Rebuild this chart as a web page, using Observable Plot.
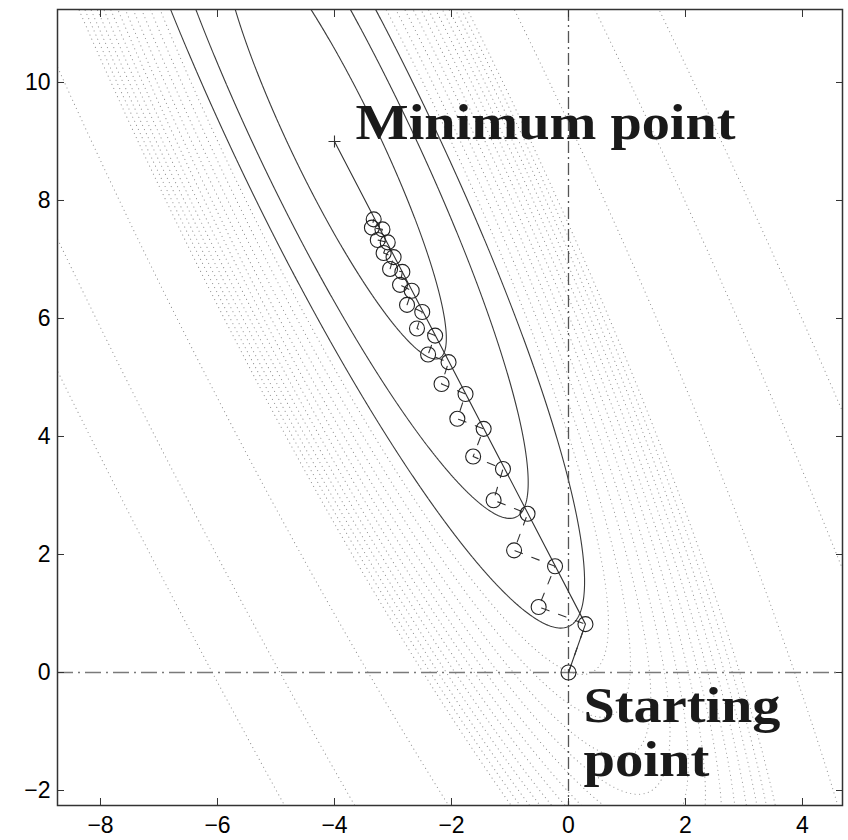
<!DOCTYPE html>
<html>
<head>
<meta charset="utf-8">
<script src="https://cdn.jsdelivr.net/npm/d3@7"></script>
<script src="https://cdn.jsdelivr.net/npm/@observablehq/plot@0.6"></script>
<style>
  html, body { margin: 0; padding: 0; background: #fff; }
</style>
</head>
<body>
<div id="chart"></div>
<script>
// Axis ticks
const xTicks = [-8, -6, -4, -2, 0, 2, 4];
const yTicks = [-2, 0, 2, 4, 6, 8, 10];

// Quadratic objective: minimum point and Hessian shape
const minimumPoint = [-4, 9];
const hessianXX = 1;
const hessianXY = 0.469;
const hessianYY = 0.2687;
const levelUnit = 0.663;

// Contour levels
const solidLevels = [1, 3, 5];
const dottedLevels = [6, 7, 8, 9, 10, 11, 12, 13, 14, 15, 16, 17, 26, 46, 66];

// Iterates (circles), in path order
const iterX = [0, 0.29, -0.51, -0.23, -0.93, -0.70, -1.28, -1.12, -1.63, -1.45,
  -1.90, -1.76, -2.17, -2.05, -2.40, -2.28, -2.59, -2.50, -2.76, -2.68,
  -2.88, -2.84, -3.05, -2.99, -3.16, -3.09, -3.26, -3.18, -3.36, -3.33];
const iterY = [0, 0.82, 1.11, 1.80, 2.07, 2.69, 2.92, 3.45, 3.66, 4.13,
  4.30, 4.72, 4.89, 5.26, 5.39, 5.71, 5.83, 6.11, 6.23, 6.47,
  6.57, 6.79, 6.84, 7.04, 7.11, 7.29, 7.33, 7.51, 7.54, 7.68];

// Solid line: start -> first step -> minimum
const lineX = [0, 0.29, -4];
const lineY = [0, 0.82, 9];

// Annotations
const labelText = ["Minimum point", "Starting\npoint"];
const labelX = [-3.64, 0.256];
const labelY = [9.05, -1.746];
const labelWidths = {"Minimum point": 380, "Starting": 197, "point": 126};

const f = (x, y) => {
  const dx = x - minimumPoint[0], dy = y - minimumPoint[1];
  return (hessianXX * dx * dx + 2 * hessianXY * dx * dy + hessianYY * dy * dy) / levelUnit;
};

const plusSymbol = {
  draw(context, size) {
    const r = Math.sqrt(size / Math.PI);
    context.moveTo(-r, 0); context.lineTo(r, 0);
    context.moveTo(0, -r); context.lineTo(0, r);
  }
};

const grid = {x1: -10, x2: 6, y1: -4, y2: 13};
const intFormat = d3.format("d");

const chart = Plot.plot({
  width: 848,
  height: 840,
  marginLeft: 57,
  marginRight: 6,
  marginTop: 9,
  marginBottom: 35,
  x: {domain: [-8.735, 4.684]},
  y: {domain: [-2.254, 11.237]},
  style: {fontFamily: "'Liberation Sans', Arial, sans-serif", background: "#fff", color: "#000"},
  marks: [
    Plot.contour({value: f, ...grid, thresholds: dottedLevels, fill: "none",
      stroke: "#959595", strokeWidth: 1.1, strokeDasharray: "0.1,4.4", strokeLinecap: "round", clip: true}),
    Plot.contour({value: f, ...grid, thresholds: solidLevels, fill: "none",
      stroke: "#3a3a3a", strokeWidth: 1.1, clip: true}),
    Plot.ruleY([0], {stroke: "#7a7a7a", strokeWidth: 1.6, strokeDasharray: "16,5,2,5"}),
    Plot.ruleX([0], {stroke: "#555", strokeWidth: 1.3, strokeDasharray: "12,4,2,4"}),
    Plot.line(lineX, {x: lineX, y: lineY, stroke: "#333", strokeWidth: 1.1}),
    Plot.line(iterX, {x: iterX, y: iterY, stroke: "#333", strokeWidth: 1.1, strokeDasharray: "8,10"}),
    Plot.dot(iterX, {x: iterX, y: iterY, r: 7.5, stroke: "#222", fill: "none", strokeWidth: 1.1}),
    Plot.dot([minimumPoint], {x: d => d[0], y: d => d[1], symbol: plusSymbol, r: 6, stroke: "#333", fill: "none", strokeWidth: 1.1}),
    Plot.text(labelText, {x: labelX, y: labelY, text: labelText, textAnchor: "start", lineAnchor: "bottom",
      fontFamily: "'Liberation Serif', 'Times New Roman', serif", fontWeight: "bold", fontSize: 51, lineHeight: 1.04, fill: "#1a1a1a"}),
    Plot.frame({stroke: "#333", strokeWidth: 1.5}),
    Plot.axisX(xTicks, {anchor: "bottom", tickSize: -7, tickPadding: 18, fontSize: 23, label: null, stroke: "#333", tickFormat: intFormat}),
    Plot.axisX(xTicks, {anchor: "top", tickSize: -7, tickFormat: () => "", label: null, stroke: "#333"}),
    Plot.axisY(yTicks, {anchor: "left", tickSize: -7, tickPadding: 14, fontSize: 23, label: null, stroke: "#333", tickFormat: intFormat}),
    Plot.axisY(yTicks, {anchor: "right", tickSize: -7, tickFormat: () => "", label: null, stroke: "#333"})
  ]
});

chart.querySelectorAll("text, tspan").forEach(el => {
  if (el.children.length === 0 || el.tagName === "tspan") {
    const t = el.textContent;
    if (labelWidths[t] !== undefined) {
      el.setAttribute("textLength", labelWidths[t]);
      el.setAttribute("lengthAdjust", "spacingAndGlyphs");
    }
  }
});

document.getElementById("chart").appendChild(chart);
</script>
</body>
</html>
